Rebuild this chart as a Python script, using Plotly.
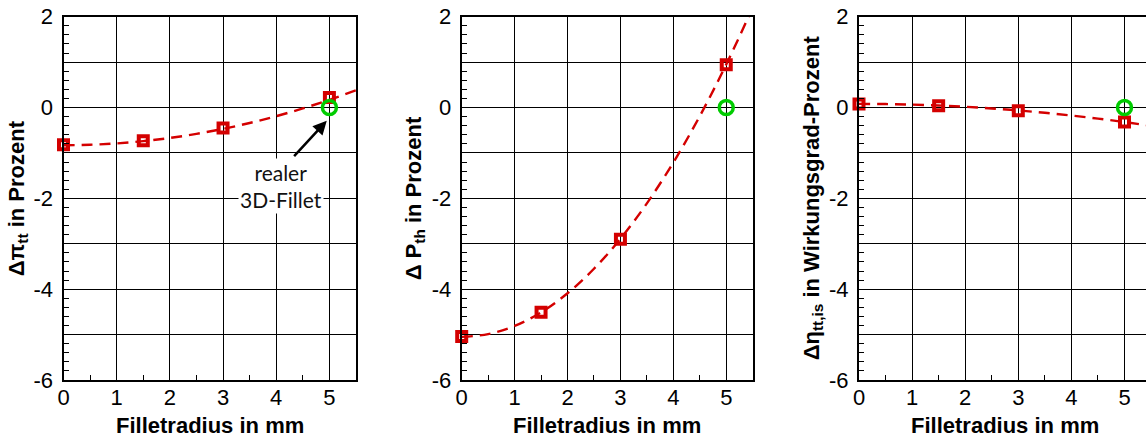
import plotly.graph_objects as go

# ---- data ----
radius = [0, 1.5, 3, 5]
pi_tt = [-0.82, -0.73, -0.45, 0.22]
p_th = [-5.04, -4.51, -2.90, 0.94]
eta_tt = [0.08, 0.04, -0.07, -0.32]

real_radius = [5]
real_value = [0]

# trend curves
fit_x = [0, 0.5, 1, 1.5, 2, 2.5, 3, 3.5, 4, 4.5, 5, 5.5]
fit_pi = [-0.83, -0.82, -0.79, -0.74, -0.67, -0.58, -0.47, -0.34, -0.19, -0.02, 0.17, 0.38]
fit_p = [-5.05, -4.99, -4.81, -4.51, -4.09, -3.55, -2.89, -2.11, -1.21, -0.19, 0.95, 2.20]
fit_eta = [0.08, 0.076, 0.064, 0.044, 0.016, -0.02, -0.064, -0.116, -0.176, -0.244, -0.32, -0.404]

y_ticks = [-6, -5, -4, -3, -2, -1, 0, 1, 2]
y_labels = ["-6", " ", "-4", " ", "-2", " ", "0", " ", "2"]
x_ticks = [0, 1, 2, 3, 4, 5]
x_labels = ["0", "1", "2", "3", "4", "5"]

y_titles = ["Δπ<sub>tt</sub> in Prozent",
            "Δ P<sub>th</sub> in Prozent",
            "Δη<sub>tt,is</sub> in Wirkungsgrad-Prozent"]
x_title = "Filletradius in mm"

RED = "#d40000"
GREEN = "#00cc00"
W, H = 1146, 437

fig = go.Figure()

series = [(pi_tt, fit_pi), (p_th, fit_p), (eta_tt, fit_eta)]
for i, (vals, fit) in enumerate(series):
    ax = "x" if i == 0 else f"x{i+1}"
    ay = "y" if i == 0 else f"y{i+1}"
    fig.add_trace(go.Scatter(x=fit_x, y=fit, mode="lines", xaxis=ax, yaxis=ay,
                             line=dict(color=RED, width=2.4, dash="11px,7px", shape="spline"),
                             showlegend=False, hoverinfo="skip"))
    fig.add_trace(go.Scatter(x=radius, y=vals, mode="markers", xaxis=ax, yaxis=ay,
                             marker=dict(symbol="square-open", size=9, color=RED,
                                         line=dict(color=RED, width=4)),
                             showlegend=False, cliponaxis=False))
    fig.add_trace(go.Scatter(x=real_radius, y=real_value, mode="markers", xaxis=ax, yaxis=ay,
                             marker=dict(symbol="circle-open", size=14, color=GREEN,
                                         line=dict(color=GREEN, width=3.5)),
                             showlegend=False, cliponaxis=False))

px = lambda v: v / W
domains = [(px(63.5), px(356)), (px(461.7), px(752.7)), (px(859), 1.0)]
x_ranges = [[0, 5.5], [0, 5.5], [0, (1146 - 859) / 53.1]]
ydom = [(H - 380) / H, (H - 16.7) / H]

tickfont = dict(family="Liberation Sans, Arial, sans-serif", size=22, color="black")
layout = dict(width=W, height=H, margin=dict(l=0, r=0, t=0, b=0, pad=0),
              plot_bgcolor="white", paper_bgcolor="white", showlegend=False)

for i in range(3):
    xk = "xaxis" if i == 0 else f"xaxis{i+1}"
    yk = "yaxis" if i == 0 else f"yaxis{i+1}"
    anchor_x = "y" if i == 0 else f"y{i+1}"
    anchor_y = "x" if i == 0 else f"x{i+1}"
    layout[xk] = dict(domain=list(domains[i]), range=x_ranges[i], anchor=anchor_x,
                      tickmode="array", tickvals=x_ticks, ticktext=x_labels,
                      showgrid=True, gridcolor="black", gridwidth=1,
                      showline=True, linecolor="black", linewidth=2, mirror=True,
                      ticks="inside", ticklen=6, tickcolor="black", tickwidth=1,
                      minor=dict(tickmode="linear", tick0=0, dtick=0.5, ticks="inside",
                                 ticklen=5, tickcolor="black", showgrid=False),
                      tickfont=tickfont, ticklabelstandoff=-3, zeroline=False,
                      fixedrange=True, automargin=False)
    layout[yk] = dict(domain=ydom, range=[-6, 2], anchor=anchor_y,
                      tickmode="array", tickvals=y_ticks, ticktext=y_labels,
                      showgrid=True, gridcolor="black", gridwidth=1,
                      showline=True, linecolor="black", linewidth=2, mirror=(i < 2),
                      ticks="inside", ticklen=8, tickcolor="black", tickwidth=1,
                      minor=dict(tickmode="linear", tick0=0, dtick=0.2, ticks="inside",
                                 ticklen=5, tickcolor="black", showgrid=False),
                      tickfont=tickfont, ticklabelstandoff=4, zeroline=False,
                      fixedrange=True, automargin=False)

fig.update_layout(**layout)

titlefont = dict(family="Liberation Sans, Arial, sans-serif", size=22, color="black", weight="bold")
title_x = [18, 415, 813]
xtitle_x = [210, 607, 1005]
ymid = ((H - 380) + (H - 16.7)) / 2 / H
for i in range(3):
    fig.add_annotation(text=f"<b>{y_titles[i]}</b>", xref="paper", yref="paper",
                       x=px(title_x[i]), y=ymid, xanchor="center", yanchor="middle",
                       textangle=-90, showarrow=False, font=titlefont)
    fig.add_annotation(text=f"<b>{x_title}</b>", xref="paper", yref="paper",
                       x=px(xtitle_x[i]), y=(H - 425) / H, xanchor="center", yanchor="middle",
                       showarrow=False, font=titlefont)

# callout in the first panel
fig.add_annotation(text="realer<br>3D-Fillet", xref="x", yref="y", x=4.09, y=-1.72,
                   xanchor="center", yanchor="middle", showarrow=False,
                   bgcolor="white", borderpad=1,
                   font=dict(family="Lato, Open Sans, sans-serif", size=21, color="#111"))
fig.add_annotation(text="", xref="x", yref="y", x=4.95, y=-0.29,
                   axref="pixel", ayref="pixel", ax=-34, ay=37,
                   showarrow=True, arrowhead=2, arrowsize=1.1, arrowwidth=2.5,
                   arrowcolor="black")

fig.write_html("out.html")
